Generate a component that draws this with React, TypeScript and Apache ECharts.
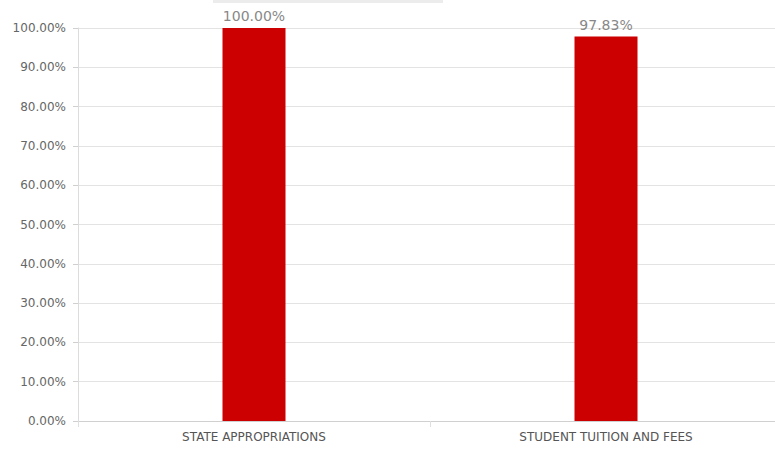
import React, { useEffect, useRef } from "react";
import * as echarts from "echarts";

const categories = ["STATE APPROPRIATIONS", "STUDENT TUITION AND FEES"];
const values = [1.0, 0.9783];

export default function App() {
  const ref = useRef<HTMLDivElement>(null);
  useEffect(() => {
    if (!ref.current) return;
    const chart = echarts.init(ref.current, undefined, { renderer: "svg" });
    chart.setOption({
      animation: false,
      backgroundColor: "#ffffff",
      grid: { left: 78, top: 28, bottom: 30, right: 8, containLabel: false },
      graphic: [
        {
          type: "rect",
          shape: { x: 213, y: 0, width: 230, height: 3 },
          style: { fill: "#ececec" },
          silent: true,
        },
      ],
      xAxis: {
        type: "category",
        data: categories,
        axisLine: { show: true, lineStyle: { color: "#d0d0d0", width: 1 } },
        axisTick: { show: true, length: 6, lineStyle: { color: "#e0e0e0" } },
        axisLabel: {
          color: "#555",
          fontSize: 12,
          fontFamily: "DejaVu Sans",
          margin: 10,
        },
      },
      yAxis: {
        type: "value",
        min: 0,
        max: 1,
        interval: 0.1,
        axisLine: { show: true, lineStyle: { color: "#dcdcdc" } },
        axisTick: { show: true, length: 5, lineStyle: { color: "#d0d0d0" } },
        splitLine: { lineStyle: { color: "#e3e3e3", width: 1 } },
        axisLabel: {
          color: "#666",
          fontSize: 12,
          fontFamily: "DejaVu Sans",
          margin: 12,
          formatter: (v: number) => (v * 100).toFixed(2) + "%",
        },
      },
      series: [
        {
          type: "bar",
          data: values,
          barWidth: 63,
          itemStyle: { color: "#cc0000" },
          label: {
            show: true,
            position: "top",
            distance: 5,
            color: "#888",
            fontSize: 14,
            fontFamily: "DejaVu Sans",
            formatter: (p: any) => (p.value * 100).toFixed(2) + "%",
          },
        },
      ],
    });
    return () => chart.dispose();
  }, []);
  return (
    <div
      style={{
        position: "absolute",
        left: 0,
        top: 0,
        width: 775,
        height: 451,
        overflow: "hidden",
      }}
    >
      <div ref={ref} style={{ width: 790, height: 451 }} />
    </div>
  );
}
